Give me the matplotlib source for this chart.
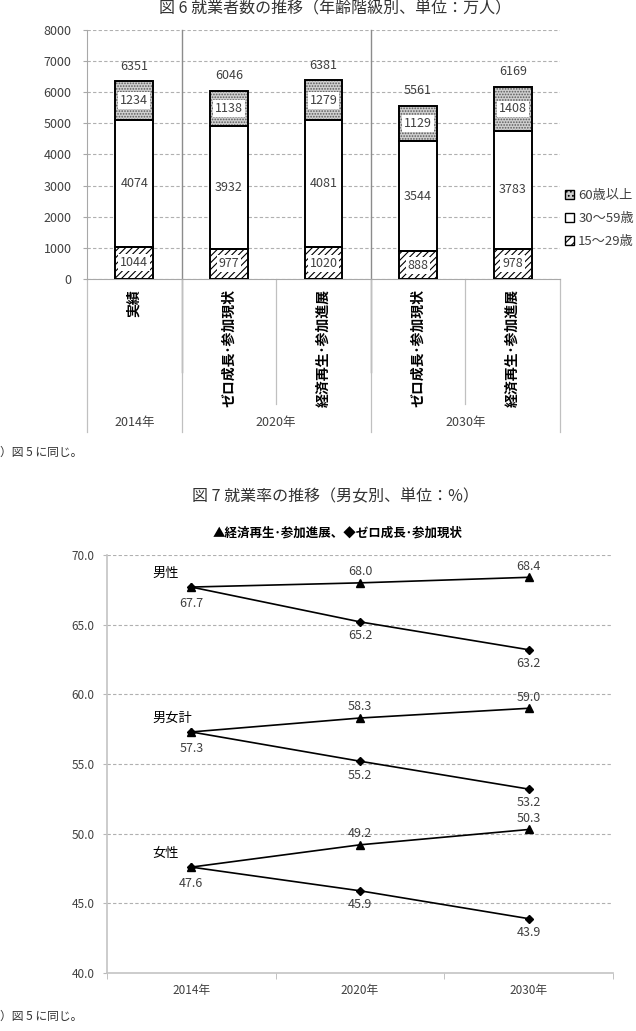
import matplotlib
matplotlib.use('Agg')
import matplotlib.pyplot as plt
from matplotlib.patches import Patch

plt.rcParams['font.family'] = ['Noto Sans CJK JP', 'DejaVu Sans']
plt.rcParams['hatch.linewidth'] = 0.8

# --- figure 6 data (万人) ---
categories = ['実績', 'ゼロ成長･参加現状', '経済再生･参加進展', 'ゼロ成長･参加現状', '経済再生･参加進展']
years6 = ['2014年', '2020年', '2030年']
age15_29 = [1044, 977, 1020, 888, 978]
age30_59 = [4074, 3932, 4081, 3544, 3783]
age60 = [1234, 1138, 1279, 1129, 1408]
totals = [6351, 6046, 6381, 5561, 6169]

# --- figure 7 data (%) ---
years7 = ['2014年', '2020年', '2030年']
male_up = [67.7, 68.0, 68.4]
male_down = [67.7, 65.2, 63.2]
all_up = [57.3, 58.3, 59.0]
all_down = [57.3, 55.2, 53.2]
female_up = [47.6, 49.2, 50.3]
female_down = [47.6, 45.9, 43.9]

W, H = 636, 1031
fig = plt.figure(figsize=(W / 100, H / 100), dpi=100)


def box(x0, y0, x1, y1):
    return [x0 / W, 1 - y1 / H, (x1 - x0) / W, (y1 - y0) / H]


txt = '#404040'
grid = '#b0b0b0'

# ================= Figure 6 =================
fig.text(335 / W, 1 - 8 / H, '図 6 就業者数の推移（年齢階級別、単位：万人）',
         ha='center', va='center', fontsize=11.5, color='#333333')

ax1 = fig.add_axes(box(87, 30, 560, 279))
x = list(range(len(categories)))
w = 0.4
b2 = [a + b for a, b in zip(age15_29, age30_59)]

ax1.bar(x, age15_29, w, color='white', hatch='/////', edgecolor='black', linewidth=0, zorder=2)
ax1.bar(x, age30_59, w, bottom=age15_29, color='white', linewidth=0, zorder=2)
ax1.bar(x, age60, w, bottom=b2, color='#cfcfcf', hatch='......', edgecolor='#5a5a5a', linewidth=0, zorder=2)
for vals, bot in [(age15_29, None), (age30_59, age15_29), (age60, b2)]:
    ax1.bar(x, vals, w, bottom=bot, fill=False, edgecolor='black', linewidth=1.4, zorder=3)

lab = dict(ha='center', va='center', fontsize=9, color=txt, zorder=5)
wb = dict(boxstyle='square,pad=0.15', fc='white', ec='none')
for i in x:
    ax1.text(i, age15_29[i] / 2, str(age15_29[i]), bbox=wb, **lab)
    ax1.text(i, age15_29[i] + age30_59[i] / 2, str(age30_59[i]), **lab)
    ax1.text(i, b2[i] + age60[i] / 2, str(age60[i]), bbox=wb, **lab)
    ax1.annotate(str(totals[i]), (i, totals[i]), xytext=(0, 11), textcoords='offset points', **lab)

ax1.set_xlim(-0.5, 4.5)
ax1.set_ylim(0, 8000)
ax1.set_yticks(range(0, 8001, 1000))
ax1.yaxis.grid(True, linestyle=(0, (3, 2)), color=grid, linewidth=0.8)
ax1.set_axisbelow(True)
ax1.set_xticks([])
for s in ['top', 'right']:
    ax1.spines[s].set_visible(False)
for s in ['left', 'bottom']:
    ax1.spines[s].set_color('#a8a8a8')
ax1.tick_params(axis='y', length=3, color='#a8a8a8', pad=8, labelsize=9, labelcolor=txt)

# group separators inside the plot
xt = ax1.get_xaxis_transform()
for gx in [0.5, 2.5]:
    ax1.plot([gx, gx], [1.0, -0.373], transform=xt, clip_on=False, color='#8c8c8c', lw=1.0, zorder=1)
# category table lines below the axis
for gx in [-0.5, 0.5, 2.5, 4.5]:
    ax1.plot([gx, gx], [0, -0.614], transform=xt, clip_on=False, color='#c0c0c0', lw=0.9)
for gx in [1.5, 3.5]:
    ax1.plot([gx, gx], [0, -0.502], transform=xt, clip_on=False, color='#c0c0c0', lw=0.9)

for i, c in enumerate(categories):
    ax1.text(i, -0.04, c, transform=xt, rotation=90, ha='center', va='top',
             fontsize=10, fontweight='bold', color='black')
for gx, yl in zip([0, 1.5, 3.5], years6):
    ax1.text(gx, -0.578, yl, transform=xt, ha='center', va='center', fontsize=9, color=txt)

handles = [Patch(facecolor='#cfcfcf', hatch='....', edgecolor='black', label='60歳以上'),
           Patch(facecolor='white', edgecolor='black', label='30～59歳'),
           Patch(facecolor='white', hatch='////', edgecolor='black', label='15～29歳')]
ax1.legend(handles=handles, loc='upper left', bbox_to_anchor=(565 / W, 1 - 189 / H),
           bbox_transform=fig.transFigure, frameon=False, fontsize=9.5, handlelength=0.7,
           handleheight=0.7, handletextpad=0.3, labelspacing=0.75, borderaxespad=0,
           borderpad=0, labelcolor=txt)

fig.text(0 / W, 1 - 452 / H, '）図 5 に同じ。', ha='left', va='center', fontsize=8.5, color='#333333')

# ================= Figure 7 =================
fig.text(335 / W, 1 - 497 / H, '図 7 就業率の推移（男女別、単位：%）',
         ha='center', va='center', fontsize=11.5, color='#333333')
fig.text(338 / W, 1 - 533 / H, '▲経済再生･参加進展、◆ゼロ成長･参加現状',
         ha='center', va='center', fontsize=9, fontweight='bold', color='black')

ax2 = fig.add_axes(box(107, 555, 613, 973))
xx = list(range(len(years7)))
for up, down in [(male_up, male_down), (all_up, all_down), (female_up, female_down)]:
    ax2.plot(xx, down, color='black', lw=1.2, marker='D', markersize=4, zorder=3)
    ax2.plot(xx, up, color='black', lw=1.2, marker='^', markersize=6, zorder=3)
    ax2.annotate(f'{up[0]:.1f}', (0, up[0]), xytext=(0, -12), textcoords='offset points',
                 ha='center', va='center', fontsize=9, color=txt)
    for i in [1, 2]:
        ax2.annotate(f'{up[i]:.1f}', (i, up[i]), xytext=(0, 8), textcoords='offset points',
                     ha='center', va='center', fontsize=9, color=txt)
        ax2.annotate(f'{down[i]:.1f}', (i, down[i]), xytext=(0, -10), textcoords='offset points',
                     ha='center', va='center', fontsize=9, color=txt)

for name, yv in [('男性', male_up[0]), ('男女計', all_up[0]), ('女性', female_up[0])]:
    ax2.annotate(name, (-0.5, yv), xytext=(45, 14), textcoords='offset pixels',
                 ha='left', va='center', fontsize=9.5, color='black')

ax2.set_xlim(-0.5, 2.5)
ax2.set_ylim(40, 70)
ax2.set_yticks(range(40, 71, 5))
ax2.set_yticklabels([f'{v:.1f}' for v in range(40, 71, 5)])
ax2.set_xticks(xx)
ax2.set_xticklabels(years7)
ax2.set_xticks([-0.5, 0.5, 1.5, 2.5], minor=True)
ax2.tick_params(axis='x', which='major', length=0, pad=8, labelsize=8.5, labelcolor=txt)
ax2.tick_params(axis='x', which='minor', length=4, color='#b8b8b8')
ax2.tick_params(axis='y', length=3, color='#b8b8b8', pad=6, labelsize=8.5, labelcolor=txt)
ax2.yaxis.grid(True, linestyle=(0, (3, 2)), color=grid, linewidth=0.8)
ax2.set_axisbelow(True)
for s in ['top', 'right']:
    ax2.spines[s].set_visible(False)
for s in ['left', 'bottom']:
    ax2.spines[s].set_color('#c4c4c4')
    ax2.spines[s].set_linewidth(1.2)

fig.text(0 / W, 1 - 1016 / H, '）図 5 に同じ。', ha='left', va='center', fontsize=8.5, color='#333333')

fig.savefig('out.png', dpi=100)
